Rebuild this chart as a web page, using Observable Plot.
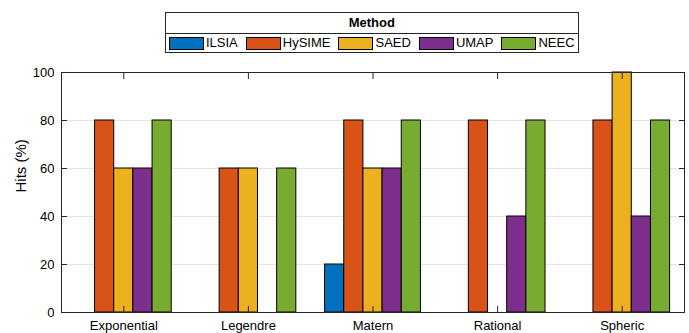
<!DOCTYPE html>
<html>
<head>
<meta charset="utf-8">
<script src="https://cdn.jsdelivr.net/npm/d3@7"></script>
<script src="https://cdn.jsdelivr.net/npm/@observablehq/plot@0.6"></script>
<style>
  html, body { margin: 0; padding: 0; background: #fff; }
  #wrap { position: relative; width: 689px; height: 333px; font-family: "Liberation Sans", Arial, Helvetica, sans-serif; }
  #legend {
    position: absolute; left: 165px; top: 12px;
    border: 1px solid #262626; background: #fff; color: #000;
    font-size: 13px;
  }
  #legend .title {
    text-align: center; font-weight: bold; height: 20px; line-height: 20px;
    border-bottom: 1px solid #262626;
  }
  #legend .items { display: flex; align-items: center; height: 18px; padding: 0 3px; }
  #legend .item { display: flex; align-items: center; margin-right: 8px; }
  #legend .item:last-child { margin-right: 0; }
  #legend .swatch { width: 33px; height: 11px; border: 1px solid #000; }
  #legend .label { margin-left: 2px; line-height: 18px; }
  #chart { position: absolute; left: 0; top: 60px; }
</style>
</head>
<body>
<div id="wrap">
  <div id="legend"></div>
  <div id="chart"></div>
</div>
<script>
// Kernel families on the x axis, one bar per method in each group
const categories = ["Exponential", "Legendre", "Matern", "Rational", "Spheric"];
const methods = ["ILSIA", "HySIME", "SAED", "UMAP", "NEEC"];
const colors = ["#0072BD", "#D95319", "#EDB120", "#7E2F8E", "#77AC30"];

// Hits (%) per kernel, one array per method
const ilsia  = [0, 0, 20, 0, 0];
const hysime = [80, 60, 80, 80, 80];
const saed   = [60, 60, 60, 0, 100];
const umap   = [60, 0, 60, 40, 40];
const neec   = [80, 60, 80, 80, 80];

const yTicks = [0, 20, 40, 60, 80, 100];
const xTicks = categories.map((_, i) => i + 1);

const series = [ilsia, hysime, saed, umap, neec];

// Grouped bar layout: groups sit at integer positions, bars share the group width
const n = methods.length;
const groupWidth = Math.min(0.8, n / (n + 1.5));
const barWidth = groupWidth / n;

const rows = [];
categories.forEach((cat, i) => {
  methods.forEach((m, j) => {
    const x1 = (i + 1) - groupWidth / 2 + j * barWidth;
    rows.push({category: cat, method: m, value: series[j][i], x1, x2: x1 + barWidth});
  });
});

// Legend
const legend = document.getElementById("legend");
const title = document.createElement("div");
title.className = "title";
title.textContent = "Method";
legend.appendChild(title);
const items = document.createElement("div");
items.className = "items";
methods.forEach((m, j) => {
  const item = document.createElement("div");
  item.className = "item";
  const sw = document.createElement("div");
  sw.className = "swatch";
  sw.style.background = colors[j];
  const lb = document.createElement("span");
  lb.className = "label";
  lb.textContent = m;
  item.appendChild(sw);
  item.appendChild(lb);
  items.appendChild(item);
});
legend.appendChild(items);

const axisColor = "#262626";

const chart = Plot.plot({
  width: 689,
  height: 273,
  marginTop: 12,
  marginBottom: 21,
  marginLeft: 61,
  marginRight: 5,
  style: {fontFamily: "'Liberation Sans', Arial, Helvetica, sans-serif", fontSize: "13px", color: axisColor, background: "#fff"},
  x: {domain: [0.5, categories.length + 0.5], label: null},
  y: {domain: [0, 100], label: null},
  color: {domain: methods, range: colors},
  marks: [
    Plot.gridY(yTicks, {stroke: "#e3e3e3", strokeOpacity: 1}),
    Plot.rectY(rows, {x1: "x1", x2: "x2", y1: 0, y2: "value", fill: "method", stroke: "#000", strokeWidth: 1}),
    // tick labels
    Plot.axisY(yTicks, {tickSize: 0, tickPadding: 7, label: null, fill: "#000"}),
    Plot.axisX(xTicks, {tickSize: 0, tickPadding: 8, label: null, fill: "#000", tickFormat: (d) => categories[d - 1]}),
    // inward tick marks on all four sides
    Plot.axisY(yTicks, {anchor: "left", tickSize: -6, tickFormat: () => "", label: null, stroke: axisColor}),
    Plot.axisY(yTicks, {anchor: "right", tickSize: -6, tickFormat: () => "", label: null, stroke: axisColor}),
    Plot.axisX(xTicks, {anchor: "bottom", tickSize: -6, tickFormat: () => "", label: null, stroke: axisColor}),
    Plot.axisX(xTicks, {anchor: "top", tickSize: -6, tickFormat: () => "", label: null, stroke: axisColor}),
    Plot.frame({stroke: axisColor, strokeWidth: 1}),
    Plot.text(["Hits (%)"], {frameAnchor: "left", rotate: -90, dx: -40, fontSize: 15, fill: "#000"})
  ]
});

document.getElementById("chart").appendChild(chart);
</script>
</body>
</html>
